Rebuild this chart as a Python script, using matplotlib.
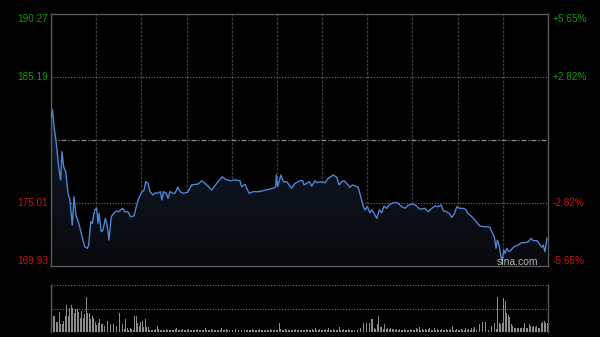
import numpy as np
import matplotlib
matplotlib.use("Agg")
import matplotlib.pyplot as plt
from matplotlib.colors import LinearSegmentedColormap
import matplotlib.transforms as mtransforms

# ---------------- data ----------------
PREV_CLOSE = 180.10
Y_MIN, Y_MAX = 169.93, 190.27
LEFT_LABELS = ["190.27", "185.19", "175.01", "169.93"]
LEFT_VALUES = [190.27, 185.19, 175.01, 169.93]
RIGHT_LABELS = ["+5.65%", "+2.82%", "-2.82%", "-5.65%"]
SESSION_MINUTES = 330
GRID_STEP = 30

TIME_MIN = [
    0, 1, 2, 3.5, 5.1, 6.4, 7.3, 8.4, 9.8, 11.3,
    12.6, 14.1, 15.3, 16.6, 18.4, 20.1, 22.4, 24.1, 25.0, 26.4,
    27.4, 29.0, 30.3, 31.2, 31.9, 33.4, 34.5, 36.1, 37.4, 38.5,
    40.0, 41.8, 43.4, 45.0, 46.3, 47.8, 48.9, 51.1, 52.9, 55.1,
    56.6, 58.2, 60.0, 61.8, 62.9, 64.4, 65.7, 67.7, 69.3, 71.0,
    72.6, 73.7, 74.6, 76.6, 77.7, 79.0, 81.0, 82.3, 84.1, 85.7,
    87.8, 90.8, 93.4, 97.8, 100.1, 103.4, 106.7, 110.0, 113.7, 115.5,
    118.9, 122.2, 125.5, 126.6, 128.8, 131.5, 134.3, 137.6, 141.0, 144.3,
    147.6, 149.2, 149.6, 150.5, 152.7, 154.3, 156.5, 159.8, 162.0, 165.3,
    167.1, 168.0, 169.8, 171.5, 173.1, 175.3, 176.8, 178.6, 181.9, 184.1,
    187.5, 189.7, 191.4, 193.0, 194.6, 196.3, 198.5, 200.3, 203.0, 204.0,
    207.4, 208.5, 210.0, 211.8, 213.0, 214.5, 216.3, 218.0, 219.6, 221.1,
    222.9, 224.6, 227.3, 229.9, 232.9, 235.1, 237.3, 240.6, 242.8, 245.0,
    248.3, 250.5, 252.8, 255.0, 257.2, 259.0, 260.5, 262.8, 264.3, 266.1,
    267.8, 269.4, 270.9, 273.1, 275.4, 276.7, 278.9, 281.1, 282.7, 284.9,
    287.1, 290.0, 291.5, 292.6, 294.4, 295.5, 296.4, 297.5, 298.8, 299.7,
    300.6, 301.5, 302.6, 304.1, 305.4, 307.6, 310.3, 312.5, 314.7, 316.9,
    318.7, 320.2, 322.5, 324.0, 325.8, 326.9, 328.0, 329.3,
]
PRICE = [
    181.83, 182.50, 181.15, 179.84, 177.93, 176.86, 179.14, 177.93, 177.53, 175.79,
    175.25, 173.23, 175.51, 174.04, 173.37, 172.56, 171.49, 171.36, 171.62, 173.50,
    173.37, 174.44, 174.58, 173.37, 174.18, 172.69, 172.83, 173.77, 173.10, 172.02,
    173.90, 174.18, 174.38, 174.30, 174.44, 174.58, 174.30, 174.30, 173.90, 173.96,
    174.71, 175.38, 175.83, 176.05, 176.72, 176.59, 175.92, 175.65, 175.83, 175.79,
    175.92, 175.25, 175.92, 175.79, 175.38, 175.92, 175.79, 175.79, 176.27, 175.92,
    175.79, 175.87, 176.46, 176.54, 176.80, 176.46, 176.05, 176.59, 177.12, 176.94,
    176.80, 176.86, 176.80, 176.32, 176.51, 175.79, 175.92, 175.92, 176.00, 176.11,
    176.19, 176.32, 177.26, 176.32, 177.26, 176.72, 176.72, 176.19, 176.59, 176.80,
    176.80, 176.46, 176.59, 176.72, 176.37, 176.80, 176.64, 176.72, 176.64, 177.00,
    177.26, 177.08, 176.46, 176.72, 176.80, 176.59, 176.27, 176.46, 176.32, 176.27,
    174.71, 174.44, 174.71, 174.22, 174.44, 174.18, 173.77, 174.44, 174.22, 174.76,
    174.58, 174.84, 175.03, 175.03, 174.71, 174.58, 174.84, 174.92, 174.76, 174.50,
    174.58, 174.30, 174.58, 174.76, 174.71, 174.84, 174.38, 174.30, 174.18, 173.85,
    174.12, 174.71, 174.58, 174.58, 174.50, 174.18, 173.96, 173.69, 173.42, 173.15,
    173.10, 173.10, 173.05, 172.69, 172.29, 171.36, 172.02, 171.62, 170.68, 170.28,
    171.22, 170.95, 171.36, 171.08, 171.22, 171.49, 171.62, 171.81, 171.81, 171.89,
    172.16, 171.97, 171.97, 171.76, 171.44, 171.62, 171.08, 172.16,
]

# volume per minute (percent of panel height)
VOLUME = [
    34, 33, 33, 21, 21, 42, 17, 17, 24, 34,
    57, 34, 52, 57, 52, 40, 49, 50, 43, 29,
    45, 30, 38, 74, 40, 40, 27, 33, 30, 22,
    15, 20, 27, 18, 17, 13, 22, 24, 13, 17,
    13, 18, 13, 13, 9, 40, 8, 18, 6, 27,
    8, 4, 8, 6, 5, 34, 34, 20, 13, 22,
    24, 11, 27, 11, 11, 4, 4, 4, 4, 6,
    13, 6, 4, 4, 5, 4, 6, 4, 5, 4,
    5, 4, 6, 9, 4, 5, 4, 6, 4, 5,
    4, 6, 5, 4, 4, 5, 4, 6, 4, 5,
    5, 4, 8, 4, 5, 4, 6, 4, 5, 4,
    5, 4, 4, 9, 5, 4, 6, 4, 5, 4,
    5, 4, 6, 4, 5, 4, 5, 6, 4, 5,
    4, 5, 4, 6, 4, 4, 5, 4, 6, 4,
    5, 4, 4, 5, 4, 6, 4, 5, 4, 4,
    5, 20, 6, 5, 4, 6, 4, 5, 4, 4,
    5, 4, 6, 4, 5, 4, 4, 5, 4, 6,
    4, 5, 5, 6, 4, 8, 5, 4, 6, 4,
    5, 4, 6, 4, 8, 5, 4, 6, 4, 5,
    4, 11, 5, 4, 6, 4, 5, 6, 4, 5,
    4, 5, 6, 4, 5, 9, 6, 20, 45, 20,
    6, 20, 28, 28, 8, 6, 17, 33, 11, 11,
    6, 17, 6, 8, 6, 8, 6, 6, 5, 6,
    5, 6, 4, 5, 6, 4, 5, 4, 6, 5,
    4, 5, 9, 6, 11, 5, 6, 4, 6, 5,
    6, 8, 5, 4, 9, 5, 6, 4, 5, 6,
    4, 5, 6, 4, 5, 6, 13, 5, 4, 6,
    4, 5, 6, 4, 5, 8, 5, 6, 4, 9,
    6, 11, 5, 15, 17, 6, 22, 23, 22, 8,
    5, 6, 13, 18, 20, 6, 74, 20, 18, 20,
    72, 67, 40, 36, 31, 18, 13, 8, 8, 9,
    8, 8, 8, 8, 20, 8, 8, 18, 13, 11,
    13, 11, 13, 8, 8, 20, 22, 24, 20, 20,
]

# ---------------- style ----------------
BG = "#000000"
FRAME = "#5a5a5a"
LINE = "#4d84d4"
GREEN = "#109a10"
RED = "#cc1410"
VGRID = "#3a3a3a"
HGRID = "#707070"
FONT = "Liberation Sans"

fig = plt.figure(figsize=(6.0, 3.37), dpi=100, facecolor=BG)
ax = fig.add_axes([51 / 600, 1 - 266 / 337, 497 / 600, 252.5 / 337])
axv = fig.add_axes([51 / 600, 1 - 332 / 337, 497 / 600, 47 / 337])

for a in (ax, axv):
    a.set_facecolor(BG)
    a.set_xlim(0, SESSION_MINUTES)
    a.set_xticks([])
    a.set_yticks([])

ax.set_ylim(Y_MIN, Y_MAX)
for s in ax.spines.values():
    s.set_color(FRAME)
    s.set_linewidth(1.0)

# vertical grid
for m in range(GRID_STEP, SESSION_MINUTES, GRID_STEP):
    ax.axvline(m, color=VGRID, lw=1.0, ls=(0, (2, 1)), zorder=1)

# horizontal grid
for v in (LEFT_VALUES[1], LEFT_VALUES[2]):
    ax.axhline(v, color=HGRID, lw=0.8, ls=(0, (1, 1.5)), zorder=1)
ax.axhline(PREV_CLOSE, color="#8a8a8a", lw=0.9, ls=(0, (4, 1.5, 1, 1.5)), zorder=1)

# gradient fill under the line
t = np.asarray(TIME_MIN, dtype=float)
p = np.asarray(PRICE, dtype=float)
poly = ax.fill_between(t, p, Y_MIN, color="none", lw=0)
cmap = LinearSegmentedColormap.from_list("g", ["#08090c", "#121b2e"])
grad = np.linspace(0, 1, 256).reshape(-1, 1)
img = ax.imshow(grad, aspect="auto", cmap=cmap, origin="lower",
                extent=[0, SESSION_MINUTES, Y_MIN, max(PRICE)], zorder=2)
path = poly.get_paths()[0]
img.set_clip_path(path, transform=ax.transData)

ax.plot(t, p, color=LINE, lw=1.0, zorder=3, solid_joinstyle="round")

# axis labels
trans_l = mtransforms.blended_transform_factory(fig.transFigure, ax.transData)
vas = ["top", "center", "center", "bottom"]
offs = [-0.004, 0, 0, 0.004]
for lab, val, va, rl, o in zip(LEFT_LABELS, LEFT_VALUES, vas, RIGHT_LABELS, offs):
    col = GREEN if val > PREV_CLOSE else RED
    ax.text(48.5 / 600, val, lab, transform=trans_l, ha="right", va=va,
            color=col, fontsize=7.2, family=FONT)
    ax.text(553 / 600, val, rl, transform=trans_l, ha="left", va=va,
            color=col, fontsize=7.2, family=FONT)

# watermark
ax.text(517 / 600, 1 - 262 / 337, "sina.com", transform=fig.transFigure,
        ha="center", va="center", color="#b4b4b4", fontsize=7.5, family=FONT,
        zorder=5)

# volume panel
vm = np.arange(len(VOLUME)) + 0.5
axv.set_ylim(0, 100)
axv.bar(vm, VOLUME, width=0.62, color="#8c8c8c", lw=0, zorder=2)
for s in ("top", "bottom"):
    axv.spines[s].set_visible(False)
for s in ("left", "right"):
    axv.spines[s].set_color(FRAME)
    axv.spines[s].set_linewidth(1.0)
axv.axhline(99.5, color=HGRID, lw=0.8, ls=(0, (1, 1.5)), zorder=1)
axv.axhline(50, color=HGRID, lw=0.8, ls=(0, (1, 1.5)), zorder=1)

fig.savefig("out.png", dpi=100, facecolor=BG)
